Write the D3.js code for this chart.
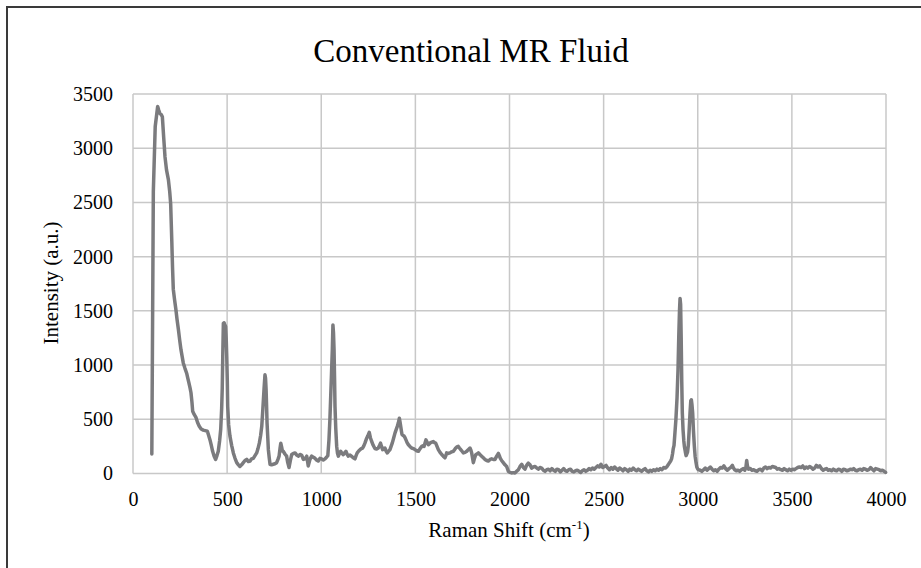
<!DOCTYPE html>
<html>
<head>
<meta charset="utf-8">
<script src="https://cdn.jsdelivr.net/npm/d3@7"></script>
<style>
  html, body { margin: 0; padding: 0; background: #fff; }
  svg { display: block; }
  text { font-family: "Liberation Serif", "Times New Roman", serif; fill: #000; }
</style>
</head>
<body>
<svg id="chart" width="921" height="568"></svg>
<script>
// ---- data ----
const chartTitle = "Conventional MR Fluid";
const xTicks = [0, 500, 1000, 1500, 2000, 2500, 3000, 3500, 4000];
const yTicks = [0, 500, 1000, 1500, 2000, 2500, 3000, 3500];

const ramanShift = [
100,108,118,131,137,143,150,156,163,170,178,188,195,200,206,210,214,221,228,234,241,248,255,261,267,276,285,291,297,303,308,313,317,325,335,343,352,362,373,384,395,402,409,416,423,431,439,446,453,460,466,471,474,477,480,484,488,492,495,498,501,503,508,515,524,533,542,551,560,568,577,586,595,604,613,622,630,639,648,657,664,671,678,684,690,696,701,704,707,710,712,716,719,724,728,736,745,754,763,770,776,781,785,790,794,798,807,816,822,829,836,843,852,861,870,878,887,896,905,914,923,931,940,949,958,967,975,984,993,1002,1011,1020,1028,1035,1041,1046,1050,1055,1059,1062,1065,1068,1071,1073,1077,1082,1086,1091,1097,1103,1110,1117,1124,1131,1138,1144,1152,1161,1170,1179,1185,1191,1200,1206,1213,1220,1226,1232,1240,1247,1255,1261,1268,1276,1285,1294,1303,1310,1315,1320,1326,1332,1338,1345,1351,1358,1365,1371,1378,1385,1392,1398,1404,1410,1415,1419,1422,1426,1429,1435,1440,1445,1450,1456,1463,1471,1480,1489,1498,1507,1516,1525,1534,1540,1546,1551,1556,1562,1569,1575,1581,1588,1595,1601,1608,1615,1622,1631,1640,1648,1657,1662,1666,1675,1684,1693,1702,1708,1714,1721,1728,1734,1741,1748,1755,1764,1773,1781,1790,1795,1799,1803,1808,1814,1821,1828,1835,1843,1852,1861,1870,1879,1888,1897,1905,1914,1923,1932,1941,1946,1950,1958,1967,1976,1985,1990,1994,2002,2011,2020,2029,2038,2047,2056,2065,2074,2082,2091,2100,2109,2118,2127,2136,2145,2153,2162,2171,2180,2189,2198,2207,2216,2225,2234,2243,2252,2261,2270,2279,2288,2297,2306,2315,2324,2333,2342,2351,2360,2369,2378,2387,2396,2405,2414,2423,2432,2441,2450,2459,2468,2477,2486,2495,2504,2513,2522,2531,2540,2549,2558,2567,2576,2585,2594,2603,2612,2621,2630,2639,2648,2657,2666,2675,2684,2693,2702,2711,2720,2729,2738,2747,2756,2765,2774,2783,2792,2801,2810,2819,2828,2835,2843,2850,2856,2861,2866,2870,2874,2879,2884,2890,2895,2899,2903,2906,2909,2912,2915,2918,2922,2926,2929,2934,2938,2941,2946,2950,2955,2959,2963,2966,2969,2973,2977,2982,2986,2991,2995,3000,3004,3013,3022,3031,3040,3049,3058,3067,3076,3085,3094,3103,3112,3121,3130,3139,3148,3157,3166,3175,3184,3190,3196,3205,3214,3223,3232,3241,3250,3256,3260,3264,3270,3279,3288,3297,3306,3315,3324,3333,3342,3351,3360,3369,3378,3387,3396,3405,3414,3423,3432,3441,3450,3459,3468,3477,3486,3495,3504,3513,3522,3531,3540,3549,3558,3567,3576,3585,3594,3603,3612,3621,3630,3639,3648,3657,3666,3675,3684,3693,3702,3711,3720,3729,3738,3747,3756,3765,3774,3783,3792,3801,3810,3819,3828,3837,3846,3855,3864,3873,3882,3891,3900,3909,3918,3927,3936,3945,3954,3963,3972,3981,3990,3998
];

const intensity = [
180,2600,3200,3385,3350,3320,3310,3290,3100,2920,2800,2710,2600,2490,2150,1900,1700,1600,1510,1420,1330,1230,1140,1080,1020,970,925,880,835,790,745,660,575,545,515,470,435,410,400,395,390,350,310,260,205,160,130,165,205,300,410,600,780,1100,1385,1390,1370,1355,1250,1080,850,620,450,345,260,190,140,100,80,65,80,100,120,130,110,115,135,140,165,190,230,280,350,435,600,775,910,880,775,600,470,330,220,140,85,80,85,90,100,130,160,230,280,240,205,205,180,160,100,55,120,175,185,190,170,160,175,170,130,135,160,70,130,160,150,140,125,115,140,135,125,135,150,165,310,500,700,950,1150,1370,1300,1140,850,620,420,250,190,160,185,205,185,175,190,205,175,160,170,160,145,135,165,190,210,220,230,235,255,280,320,345,380,330,295,260,230,225,235,260,280,250,220,230,235,205,190,205,220,250,285,330,375,405,435,470,510,470,435,390,360,350,345,330,310,285,265,250,235,230,220,210,205,230,250,255,250,280,310,290,265,275,285,290,295,285,280,250,220,195,175,160,145,165,190,185,190,200,205,220,235,245,250,235,220,205,190,195,205,220,235,215,190,150,100,140,175,180,190,175,160,145,130,120,115,130,135,130,130,160,185,165,145,120,100,80,65,40,20,10,5,8,5,20,35,65,85,55,40,75,95,80,50,60,65,50,40,55,50,30,20,35,40,25,45,30,20,40,35,15,30,45,25,20,35,40,20,15,25,30,20,10,25,35,20,30,45,35,50,40,55,70,60,85,55,65,75,50,35,55,40,60,45,30,50,40,25,45,35,20,40,30,50,35,25,40,30,20,35,45,25,15,30,20,35,25,40,30,45,35,55,50,60,80,100,115,135,180,230,260,380,500,700,950,1250,1500,1615,1560,1250,850,560,400,300,250,200,165,175,200,260,420,560,670,680,640,560,400,250,160,100,60,40,35,30,20,35,50,30,45,60,40,25,35,20,40,55,50,70,45,30,45,55,75,50,35,25,30,20,35,45,30,60,120,70,40,45,30,35,25,20,35,40,25,50,60,45,55,50,65,60,55,40,45,35,30,45,35,25,40,30,40,35,45,55,60,55,70,45,60,50,65,55,40,50,75,60,70,45,30,40,45,30,35,25,40,30,25,40,35,20,40,35,25,30,40,35,45,30,25,35,40,30,45,40,30,35,55,40,25,45,40,35,25,30,20,10
];

// ---- drawing ----
const svg = d3.select("#chart");
const W = 921, H = 568;
const plot = { left: 133, right: 886, top: 94, bottom: 473.5 };

svg.append("rect").attr("x", 0).attr("y", 0).attr("width", W).attr("height", H).attr("fill", "#fff");
// outer chart border (only left/top visible in frame)
svg.append("rect").attr("x", 7).attr("y", 7).attr("width", 940).attr("height", 600)
  .attr("fill", "none").attr("stroke", "#3a3a3a").attr("stroke-width", 2);

const x = d3.scaleLinear().domain([0, 4000]).range([plot.left, plot.right]);
const y = d3.scaleLinear().domain([0, 3500]).range([plot.bottom, plot.top]);

// gridlines
const grid = svg.append("g").attr("stroke", "#c8c8c8").attr("stroke-width", 1.5);
grid.selectAll("line.v").data(xTicks).join("line").attr("class", "v")
  .attr("x1", d => x(d)).attr("x2", d => x(d)).attr("y1", plot.top).attr("y2", plot.bottom);
grid.selectAll("line.h").data(yTicks).join("line").attr("class", "h")
  .attr("x1", plot.left).attr("x2", plot.right).attr("y1", d => y(d)).attr("y2", d => y(d));

// axes (labels only)
const xAxis = svg.append("g").attr("transform", `translate(0,${plot.bottom})`)
  .call(d3.axisBottom(x).tickValues(xTicks).tickSize(0).tickPadding(18).tickFormat(d3.format("d")));
xAxis.select(".domain").remove();
xAxis.selectAll("text").style("font-size", "20px").style("font-family", "Liberation Serif").attr("fill", "#000");

const yAxis = svg.append("g").attr("transform", `translate(${plot.left},0)`)
  .call(d3.axisLeft(y).tickValues(yTicks).tickSize(0).tickPadding(20).tickFormat(d3.format("d")));
yAxis.select(".domain").remove();
yAxis.selectAll("text").style("font-size", "20px").style("font-family", "Liberation Serif").attr("fill", "#000");

// series line
const pts = ramanShift.map((v, i) => [v, intensity[i]]);
svg.append("path").datum(pts)
  .attr("fill", "none").attr("stroke", "#7b7b7e").attr("stroke-width", 3.5)
  .attr("stroke-linejoin", "round").attr("stroke-linecap", "round")
  .attr("d", d3.line().x(d => x(d[0])).y(d => y(d[1])));

// title
svg.append("text").attr("x", 471).attr("y", 62).attr("text-anchor", "middle")
  .style("font-size", "33px").text(chartTitle);

// axis titles
svg.append("text").attr("transform", "translate(58,283) rotate(-90)").attr("text-anchor", "middle")
  .style("font-size", "21px").text("Intensity (a.u.)");

const xt = svg.append("text").attr("x", 509).attr("y", 537).attr("text-anchor", "middle").style("font-size", "21px");
xt.append("tspan").text("Raman Shift (cm");
xt.append("tspan").attr("dy", -8).style("font-size", "13px").text("-1");
xt.append("tspan").attr("dy", 8).text(")");
</script>
</body>
</html>
